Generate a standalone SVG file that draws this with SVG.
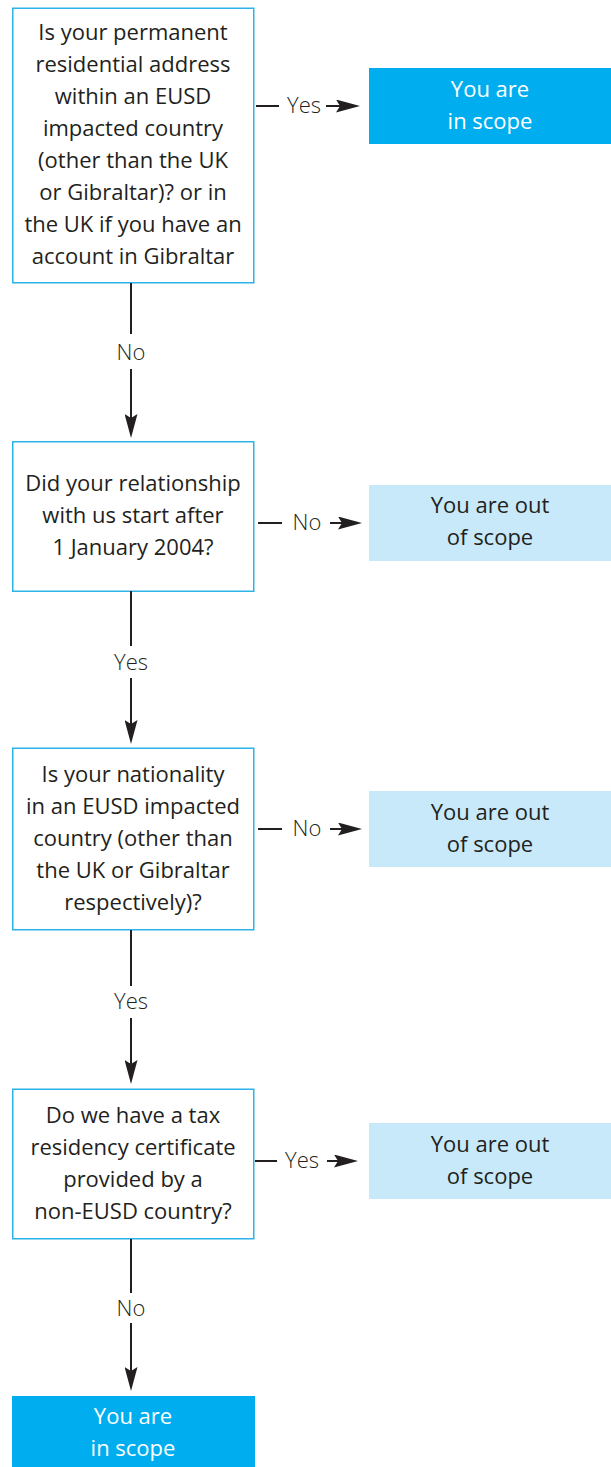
<svg xmlns="http://www.w3.org/2000/svg" width="611" height="1467" viewBox="0 0 611 1467">
<defs>
<style>
.q{fill:#fff;stroke:#2bb3ea;stroke-width:1.5}
.in{fill:#00aeef}
.out{fill:#c7e9f9}
.t{font-family:"Open Sans","Noto Sans","Liberation Sans",sans-serif;font-size:22px;fill:#231f20;text-anchor:middle}
.w{fill:#fff}
.lbl{font-family:"Open Sans","Noto Sans","Liberation Sans",sans-serif;font-size:22px;font-weight:300;fill:#231f20;text-anchor:middle}
.c{stroke:#231f20;stroke-width:2;fill:none}
</style>
<marker id="ah" viewBox="0 0 24 13" refX="4" refY="6.5" markerWidth="24" markerHeight="13" markerUnits="userSpaceOnUse" orient="auto">
<path d="M0,0 L24,6.5 L0,13 L4,6.5 Z" fill="#231f20"/>
</marker>
</defs>

<g id="q1">
<rect class="q" x="12.75" y="8.25" width="241" height="274.5"/>
<text class="t" x="133" y="40">Is your permanent</text>
<text class="t" x="133" y="72">residential address</text>
<text class="t" x="133" y="104">within an EUSD</text>
<text class="t" x="133" y="136">impacted country</text>
<text class="t" x="133" y="168">(other than the UK</text>
<text class="t" x="133" y="200">or Gibraltar)? or in</text>
<text class="t" x="133" y="232">the UK if you have an</text>
<text class="t" x="133" y="264">account in Gibraltar</text>
</g>
<g id="r1">
<rect class="in" x="369" y="68" width="242" height="76"/>
<text class="t w" x="490" y="97">You are</text>
<text class="t w" x="490" y="129">in scope</text>
</g>

<g id="q2">
<rect class="q" x="12.75" y="441.75" width="241" height="149.5"/>
<text class="t" x="133" y="491">Did your relationship</text>
<text class="t" x="133" y="523">with us start after</text>
<text class="t" x="133" y="555">1 January 2004?</text>
</g>
<g id="r2">
<rect class="out" x="369" y="485" width="242" height="76"/>
<text class="t" x="490" y="513">You are out</text>
<text class="t" x="490" y="545">of scope</text>
</g>

<g id="q3">
<rect class="q" x="12.75" y="748.25" width="241" height="181.5"/>
<text class="t" x="133" y="782">Is your nationality</text>
<text class="t" x="133" y="814">in an EUSD impacted</text>
<text class="t" x="133" y="846">country (other than</text>
<text class="t" x="133" y="878">the UK or Gibraltar</text>
<text class="t" x="133" y="910">respectively)?</text>
</g>
<g id="r3">
<rect class="out" x="369" y="791" width="242" height="76"/>
<text class="t" x="490" y="820">You are out</text>
<text class="t" x="490" y="852">of scope</text>
</g>

<g id="q4">
<rect class="q" x="12.75" y="1089.25" width="241" height="149.5"/>
<text class="t" x="133" y="1123">Do we have a tax</text>
<text class="t" x="133" y="1155">residency certificate</text>
<text class="t" x="133" y="1187">provided by a</text>
<text class="t" x="133" y="1219">non-EUSD country?</text>
</g>
<g id="r4">
<rect class="out" x="369" y="1123" width="242" height="76"/>
<text class="t" x="490" y="1152">You are out</text>
<text class="t" x="490" y="1184">of scope</text>
</g>

<g id="r5">
<rect class="in" x="12" y="1396" width="243" height="71"/>
<text class="t w" x="133" y="1424">You are</text>
<text class="t w" x="133" y="1456">in scope</text>
</g>

<g id="connectors">
<line class="c" x1="256" y1="106" x2="279" y2="106"/>
<text class="lbl" x="304" y="113">Yes</text>
<line class="c" x1="326" y1="106" x2="340" y2="106" marker-end="url(#ah)"/>

<line class="c" x1="131" y1="283" x2="131" y2="334"/>
<text class="lbl" x="131" y="360">No</text>
<line class="c" x1="131" y1="369" x2="131" y2="418" marker-end="url(#ah)"/>

<line class="c" x1="258" y1="523" x2="282" y2="523"/>
<text class="lbl" x="307" y="530">No</text>
<line class="c" x1="330" y1="523" x2="342" y2="523" marker-end="url(#ah)"/>

<line class="c" x1="131" y1="591" x2="131" y2="646"/>
<text class="lbl" x="131" y="670">Yes</text>
<line class="c" x1="131" y1="678" x2="131" y2="724" marker-end="url(#ah)"/>

<line class="c" x1="258" y1="829" x2="282" y2="829"/>
<text class="lbl" x="307" y="836">No</text>
<line class="c" x1="330" y1="829" x2="342" y2="829" marker-end="url(#ah)"/>

<line class="c" x1="131" y1="930" x2="131" y2="986"/>
<text class="lbl" x="131" y="1009">Yes</text>
<line class="c" x1="131" y1="1018" x2="131" y2="1064" marker-end="url(#ah)"/>

<line class="c" x1="255" y1="1161" x2="277" y2="1161"/>
<text class="lbl" x="302" y="1168">Yes</text>
<line class="c" x1="327" y1="1161" x2="338" y2="1161" marker-end="url(#ah)"/>

<line class="c" x1="131" y1="1239" x2="131" y2="1293"/>
<text class="lbl" x="131" y="1316">No</text>
<line class="c" x1="131" y1="1323" x2="131" y2="1371" marker-end="url(#ah)"/>
</g>
</svg>
